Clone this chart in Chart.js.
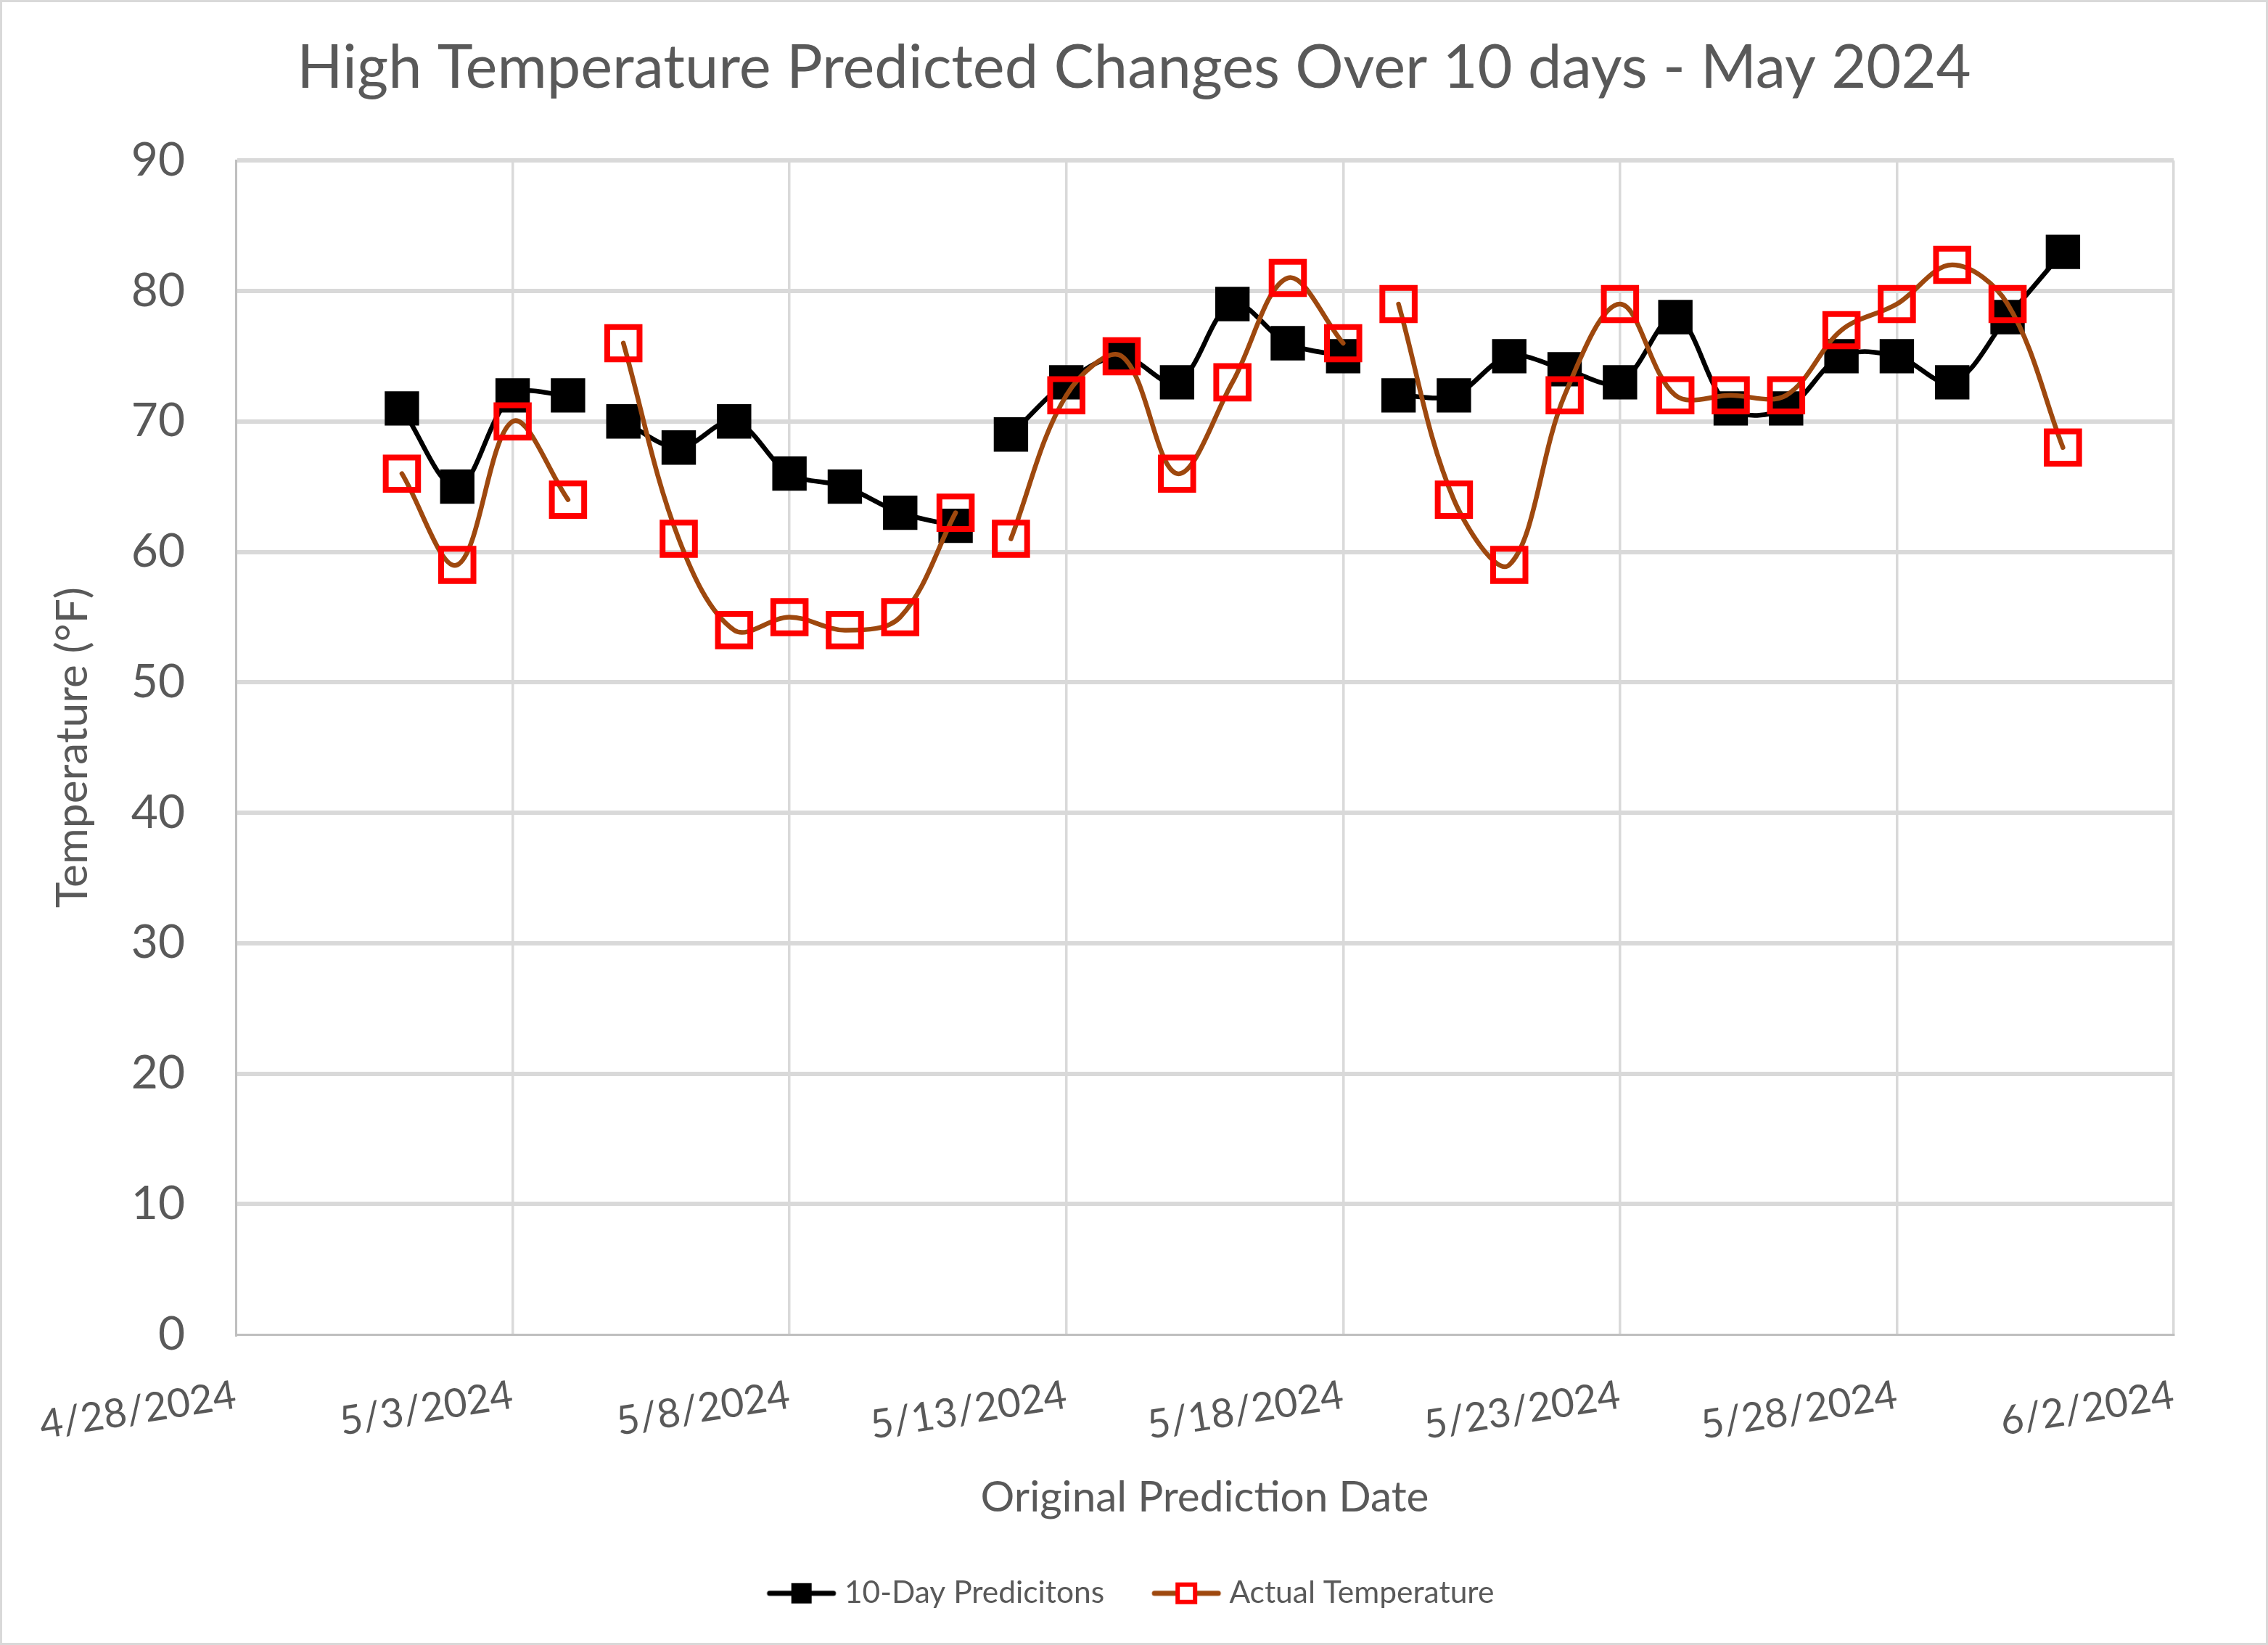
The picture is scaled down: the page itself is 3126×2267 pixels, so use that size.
<!DOCTYPE html>
<html>
<head>
<meta charset="utf-8">
<title>High Temperature Predicted Changes Over 10 days - May 2024</title>
<script src="https://cdn.jsdelivr.net/npm/chart.js@4.4.1/dist/chart.umd.min.js"></script>
<style>
  html, body { margin: 0; padding: 0; background: #fff; }
  #wrap { width: 3126px; height: 2267px; box-sizing: border-box; border: 3px solid #d9d9d9; }
</style>
</head>
<body>
<div id="wrap"><canvas id="tempChart"></canvas></div>
<script>
// daily values, 5/1 .. 5/31
const dates = [
  "2024-05-01", "2024-05-02", "2024-05-03", "2024-05-04", "2024-05-05", "2024-05-06", "2024-05-07",
  "2024-05-08", "2024-05-09", "2024-05-10", "2024-05-11", "2024-05-12", "2024-05-13", "2024-05-14",
  "2024-05-15", "2024-05-16", "2024-05-17", "2024-05-18", "2024-05-19", "2024-05-20", "2024-05-21",
  "2024-05-22", "2024-05-23", "2024-05-24", "2024-05-25", "2024-05-26", "2024-05-27", "2024-05-28",
  "2024-05-29", "2024-05-30", "2024-05-31"
];
const predicted = [71, 65, 72, 72, 70, 68, 70, 66, 65, 63, 62, 69, 73, 75, 73, 79, 76, 75, 72, 72, 75, 74, 73, 78, 71, 71, 75, 75, 73, 78, 83];
const actual    = [66, 59, 70, 64, 76, 61, 54, 55, 54, 55, 63, 61, 72, 75, 66, 73, 81, 76, 79, 64, 59, 72, 79, 72, 72, 72, 77, 79, 82, 79, 68];
// the lines are broken after these days
const breakAfter = ["2024-05-04", "2024-05-11", "2024-05-18"];

const axisStart = "2024-04-28";
const xTickLabels = ["4/28/2024", "5/3/2024", "5/8/2024", "5/13/2024", "5/18/2024", "5/23/2024", "5/28/2024", "6/2/2024"];

const DAY = 86400000;
const dayNum = d => (Date.parse(d) - Date.parse(axisStart)) / DAY;

function toPoints(values) {
  const pts = [];
  dates.forEach((d, i) => {
    pts.push({ x: dayNum(d), y: values[i] });
    if (breakAfter.includes(d)) pts.push({ x: dayNum(d) + 0.5, y: null });
  });
  return pts;
}

// legend glyph: line with a square marker in the middle
function legendIcon(lineColor, fill, stroke) {
  const c = document.createElement("canvas");
  c.width = 98; c.height = 36;
  const g = c.getContext("2d");
  g.strokeStyle = lineColor; g.lineWidth = 7; g.lineCap = "round";
  g.beginPath(); g.moveTo(5, 18); g.lineTo(93, 18); g.stroke();
  if (stroke) {
    g.fillStyle = "#fff"; g.fillRect(35, 4, 28, 28);
    g.strokeStyle = stroke; g.lineWidth = 6; g.strokeRect(37, 6, 24, 24);
  } else {
    g.fillStyle = fill; g.fillRect(35, 4, 28, 28);
  }
  return c;
}

document.addEventListener("DOMContentLoaded", () => {
  Chart.defaults.font.family = "Lato";
  Chart.defaults.color = "#595959";

  const icons = [legendIcon("#000000", "#000000"), legendIcon("#9e480e", null, "#ff0000")];
  const gridColor = c => (c.tick && c.tick.value === 0 ? "rgba(0,0,0,0)" : "#d9d9d9");

  new Chart(document.getElementById("tempChart"), {
    type: "line",
    data: {
      datasets: [
        {
          label: "10-Day Predicitons",
          data: toPoints(predicted),
          borderColor: "#000000",
          borderWidth: 6.5,
          borderCapStyle: "round",
          borderJoinStyle: "round",
          tension: 0.35,
          pointStyle: "rect",
          pointRadius: 33.5,
          pointBackgroundColor: "#000000",
          pointBorderWidth: 0,
          order: 2
        },
        {
          label: "Actual Temperature",
          data: toPoints(actual),
          borderColor: "#9e480e",
          borderWidth: 6.5,
          borderCapStyle: "round",
          borderJoinStyle: "round",
          tension: 0.35,
          pointStyle: "rect",
          pointRadius: 31.5,
          pointBackgroundColor: "rgba(0,0,0,0)",
          pointBorderColor: "#ff0000",
          pointBorderWidth: 8,
          order: 1
        }
      ]
    },
    options: {
      responsive: true,
      maintainAspectRatio: false,
      animation: false,
      events: [],
      layout: { padding: { top: 0, left: 0, right: 0, bottom: 37 } },
      plugins: {
        title: {
          display: true,
          text: "High Temperature Predicted Changes Over 10 days - May 2024",
          color: "#595959",
          font: { size: 83, weight: "normal", lineHeight: 1.2 },
          padding: { top: 41, bottom: 77.7 }
        },
        legend: {
          position: "bottom",
          labels: {
            usePointStyle: true,
            pointStyleWidth: 76,
            padding: 75,
            color: "#595959",
            font: { size: 42.5 },
            generateLabels: chart => chart.data.datasets.map((ds, i) => ({
              text: ds.label,
              pointStyle: icons[i],
              datasetIndex: i,
              hidden: false,
              fontColor: "#595959",
              lineWidth: 0,
              strokeStyle: "rgba(0,0,0,0)",
              fillStyle: "rgba(0,0,0,0)"
            }))
          }
        },
        tooltip: { enabled: false }
      },
      scales: {
        x: {
          type: "linear",
          min: 0,
          max: 35,
          afterFit: s => { s.height = 260.5; s.paddingRight = 127; },
          ticks: {
            stepSize: 5,
            autoSkip: false,
            minRotation: 9,
            maxRotation: 9,
            padding: 4,
            color: "#595959",
            font: { size: 55 },
            callback: (v, i) => xTickLabels[i]
          },
          grid: {
            color: gridColor,
            lineWidth: 3.5,
            drawTicks: true,
            tickLength: 47,
            tickColor: "rgba(0,0,0,0)"
          },
          border: { color: "#bfbfbf", width: 3 },
          title: {
            display: true,
            text: "Original Prediction Date",
            color: "#595959",
            font: { size: 58.5 },
            padding: { top: 0, bottom: 0 }
          }
        },
        y: {
          min: 0,
          max: 90,
          afterFit: s => { s.width = 322; },
          ticks: {
            stepSize: 10,
            padding: 70,
            color: "#595959",
            font: { size: 64 }
          },
          grid: { color: gridColor, lineWidth: 6, drawTicks: false },
          border: { color: "#bfbfbf", width: 3 },
          title: {
            display: true,
            text: "Temperature (°F)",
            color: "#595959",
            font: { size: 60.5 },
            padding: { top: 61, bottom: 0 }
          }
        }
      }
    }
  });
});
</script>
</body>
</html>
